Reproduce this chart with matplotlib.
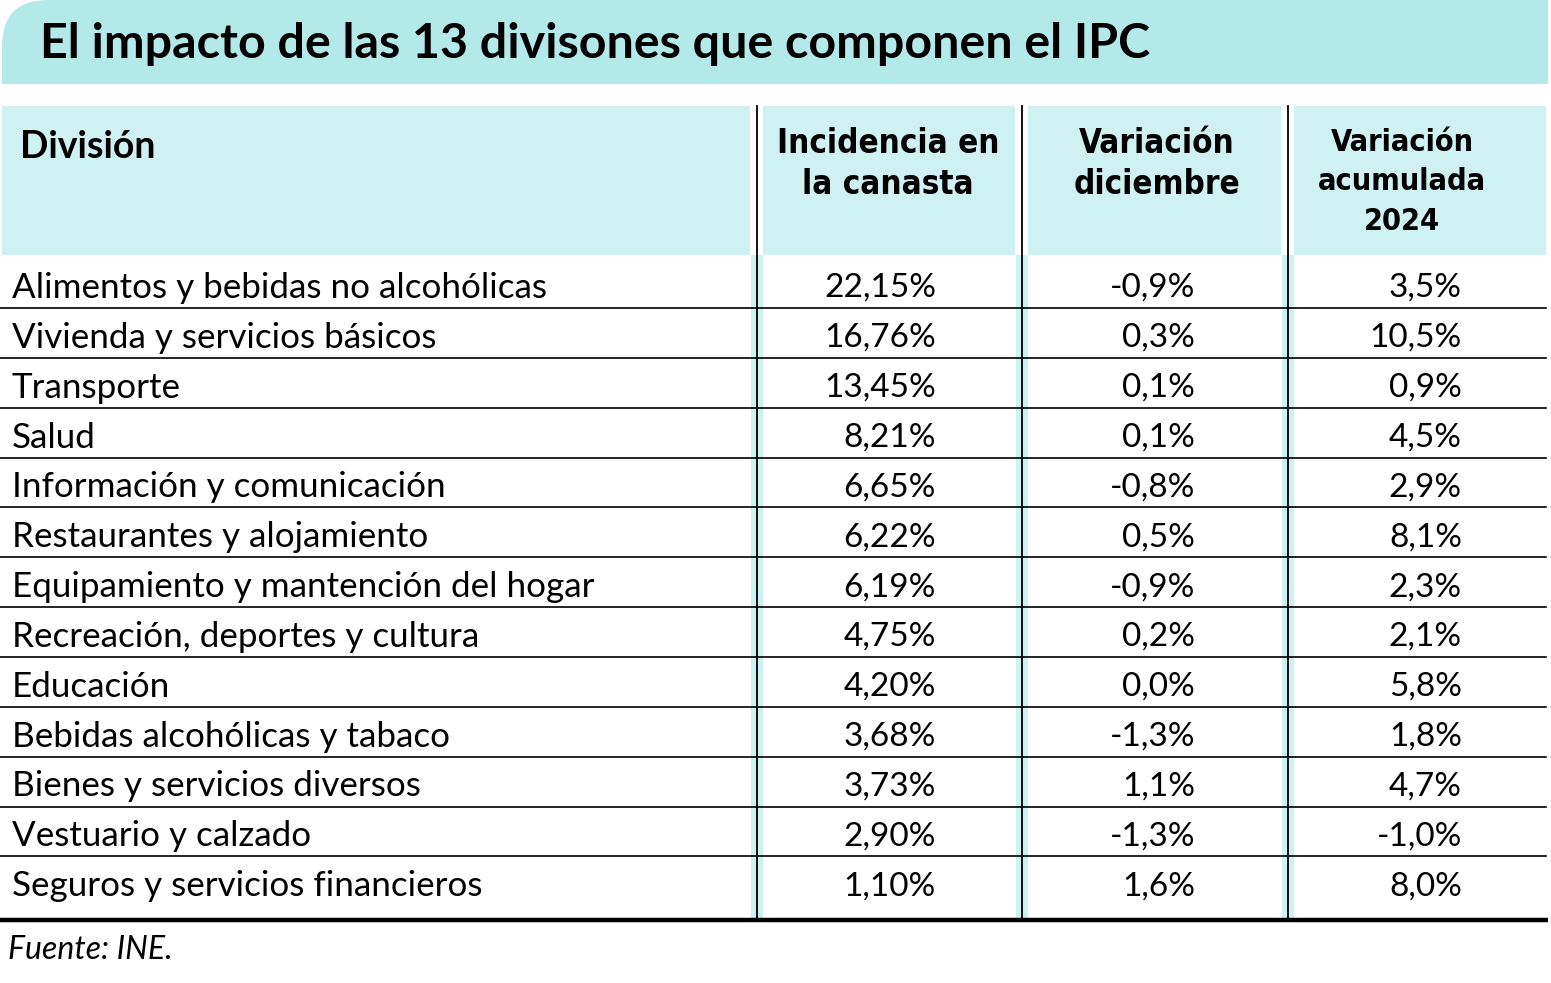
import matplotlib.pyplot as plt
from matplotlib.patches import Rectangle, PathPatch
from matplotlib.path import Path

titulo = 'El impacto de las 13 divisones que componen el IPC'
encabezados = ['División', 'Incidencia en\nla canasta', 'Variación\ndiciembre', 'Variación\nacumulada\n2024']
fuente = 'Fuente: INE.'

divisiones = [
    'Alimentos y bebidas no alcohólicas',
    'Vivienda y servicios básicos',
    'Transporte',
    'Salud',
    'Información y comunicación',
    'Restaurantes y alojamiento',
    'Equipamiento y mantención del hogar',
    'Recreación, deportes y cultura',
    'Educación',
    'Bebidas alcohólicas y tabaco',
    'Bienes y servicios diversos',
    'Vestuario y calzado',
    'Seguros y servicios financieros',
]
incidencia = [22.15, 16.76, 13.45, 8.21, 6.65, 6.22, 6.19, 4.75, 4.20, 3.68, 3.73, 2.90, 1.10]
var_diciembre = [-0.9, 0.3, 0.1, 0.1, -0.8, 0.5, -0.9, 0.2, 0.0, -1.3, 1.1, -1.3, 1.6]
var_acumulada = [3.5, 10.5, 0.9, 4.5, 2.9, 8.1, 2.3, 2.1, 5.8, 1.8, 4.7, -1.0, 8.0]


def pct(v, dec):
    return f'{v:.{dec}f}'.replace('.', ',') + '%'


W, H = 1551, 983
fig = plt.figure(figsize=(W / 100, H / 100), dpi=100)
ax = fig.add_axes([0, 0, 1, 1])
ax.set_xlim(0, W)
ax.set_ylim(H, 0)
ax.axis('off')

BAR = '#b3e9e8'
HEAD = '#cff1f1'

# title bar with rounded top-left corner
r = 46
verts = [(2, 84), (2, r), (2, 0), (2 + r, 0), (1548, 0), (1548, 84), (2, 84)]
codes = [Path.MOVETO, Path.LINETO, Path.CURVE3, Path.CURVE3, Path.LINETO, Path.LINETO, Path.CLOSEPOLY]
ax.add_patch(PathPatch(Path(verts, codes), facecolor=BAR, edgecolor='none'))
ax.text(40, 44, titulo, fontsize=34.8, fontweight='bold', family='Lato', va='center', ha='left')

# header cells
cols = [(2, 750), (763, 1015), (1028, 1281), (1294, 1546)]
for x0, x1 in cols:
    ax.add_patch(Rectangle((x0, 106), x1 - x0, 149, facecolor=HEAD, edgecolor='none'))

top_body = 255
bottom = 919
for xl in [757, 1022, 1288]:
    ax.add_patch(Rectangle((xl - 6, top_body), 12, bottom - top_body, facecolor=HEAD, edgecolor='none'))
    ax.plot([xl, xl], [106, bottom], color='black', lw=1.3)

ax.text(20, 147, encabezados[0], fontsize=27, fontweight='bold', family='Lato', va='center')
head_font = dict(fontweight='bold', family='DejaVu Sans', fontstretch='condensed',
                 ha='center', va='center')
ax.text(888, 164, encabezados[1], fontsize=23.8, linespacing=1.32, **head_font)
ax.text(1157, 164, encabezados[2], fontsize=23.8, linespacing=1.32, **head_font)
ax.text(1402, 182, encabezados[3], fontsize=22, linespacing=1.45, **head_font)

# body rows
step = 49.85
y0 = 288
for i, nombre in enumerate(divisiones):
    y = y0 + i * step
    ax.text(12, y, nombre, ha='left', va='center', family='Lato', fontsize=25.2)
    for x, val, dec in [(936, incidencia[i], 2), (1195, var_diciembre[i], 1), (1462, var_acumulada[i], 1)]:
        ax.text(x, y, pct(val, dec), ha='right', va='center', family='Lato', fontsize=24)
    if i < len(divisiones) - 1:
        ax.plot([0, 1546], [y + 20, y + 20], color='black', lw=1.2)

ax.plot([0, 1548], [bottom + 1, bottom + 1], color='black', lw=3.2, solid_capstyle='butt')
ax.text(8, 950, fuente, family='Lato', style='italic', fontsize=23, va='center')

fig.savefig('out.png', dpi=100)
